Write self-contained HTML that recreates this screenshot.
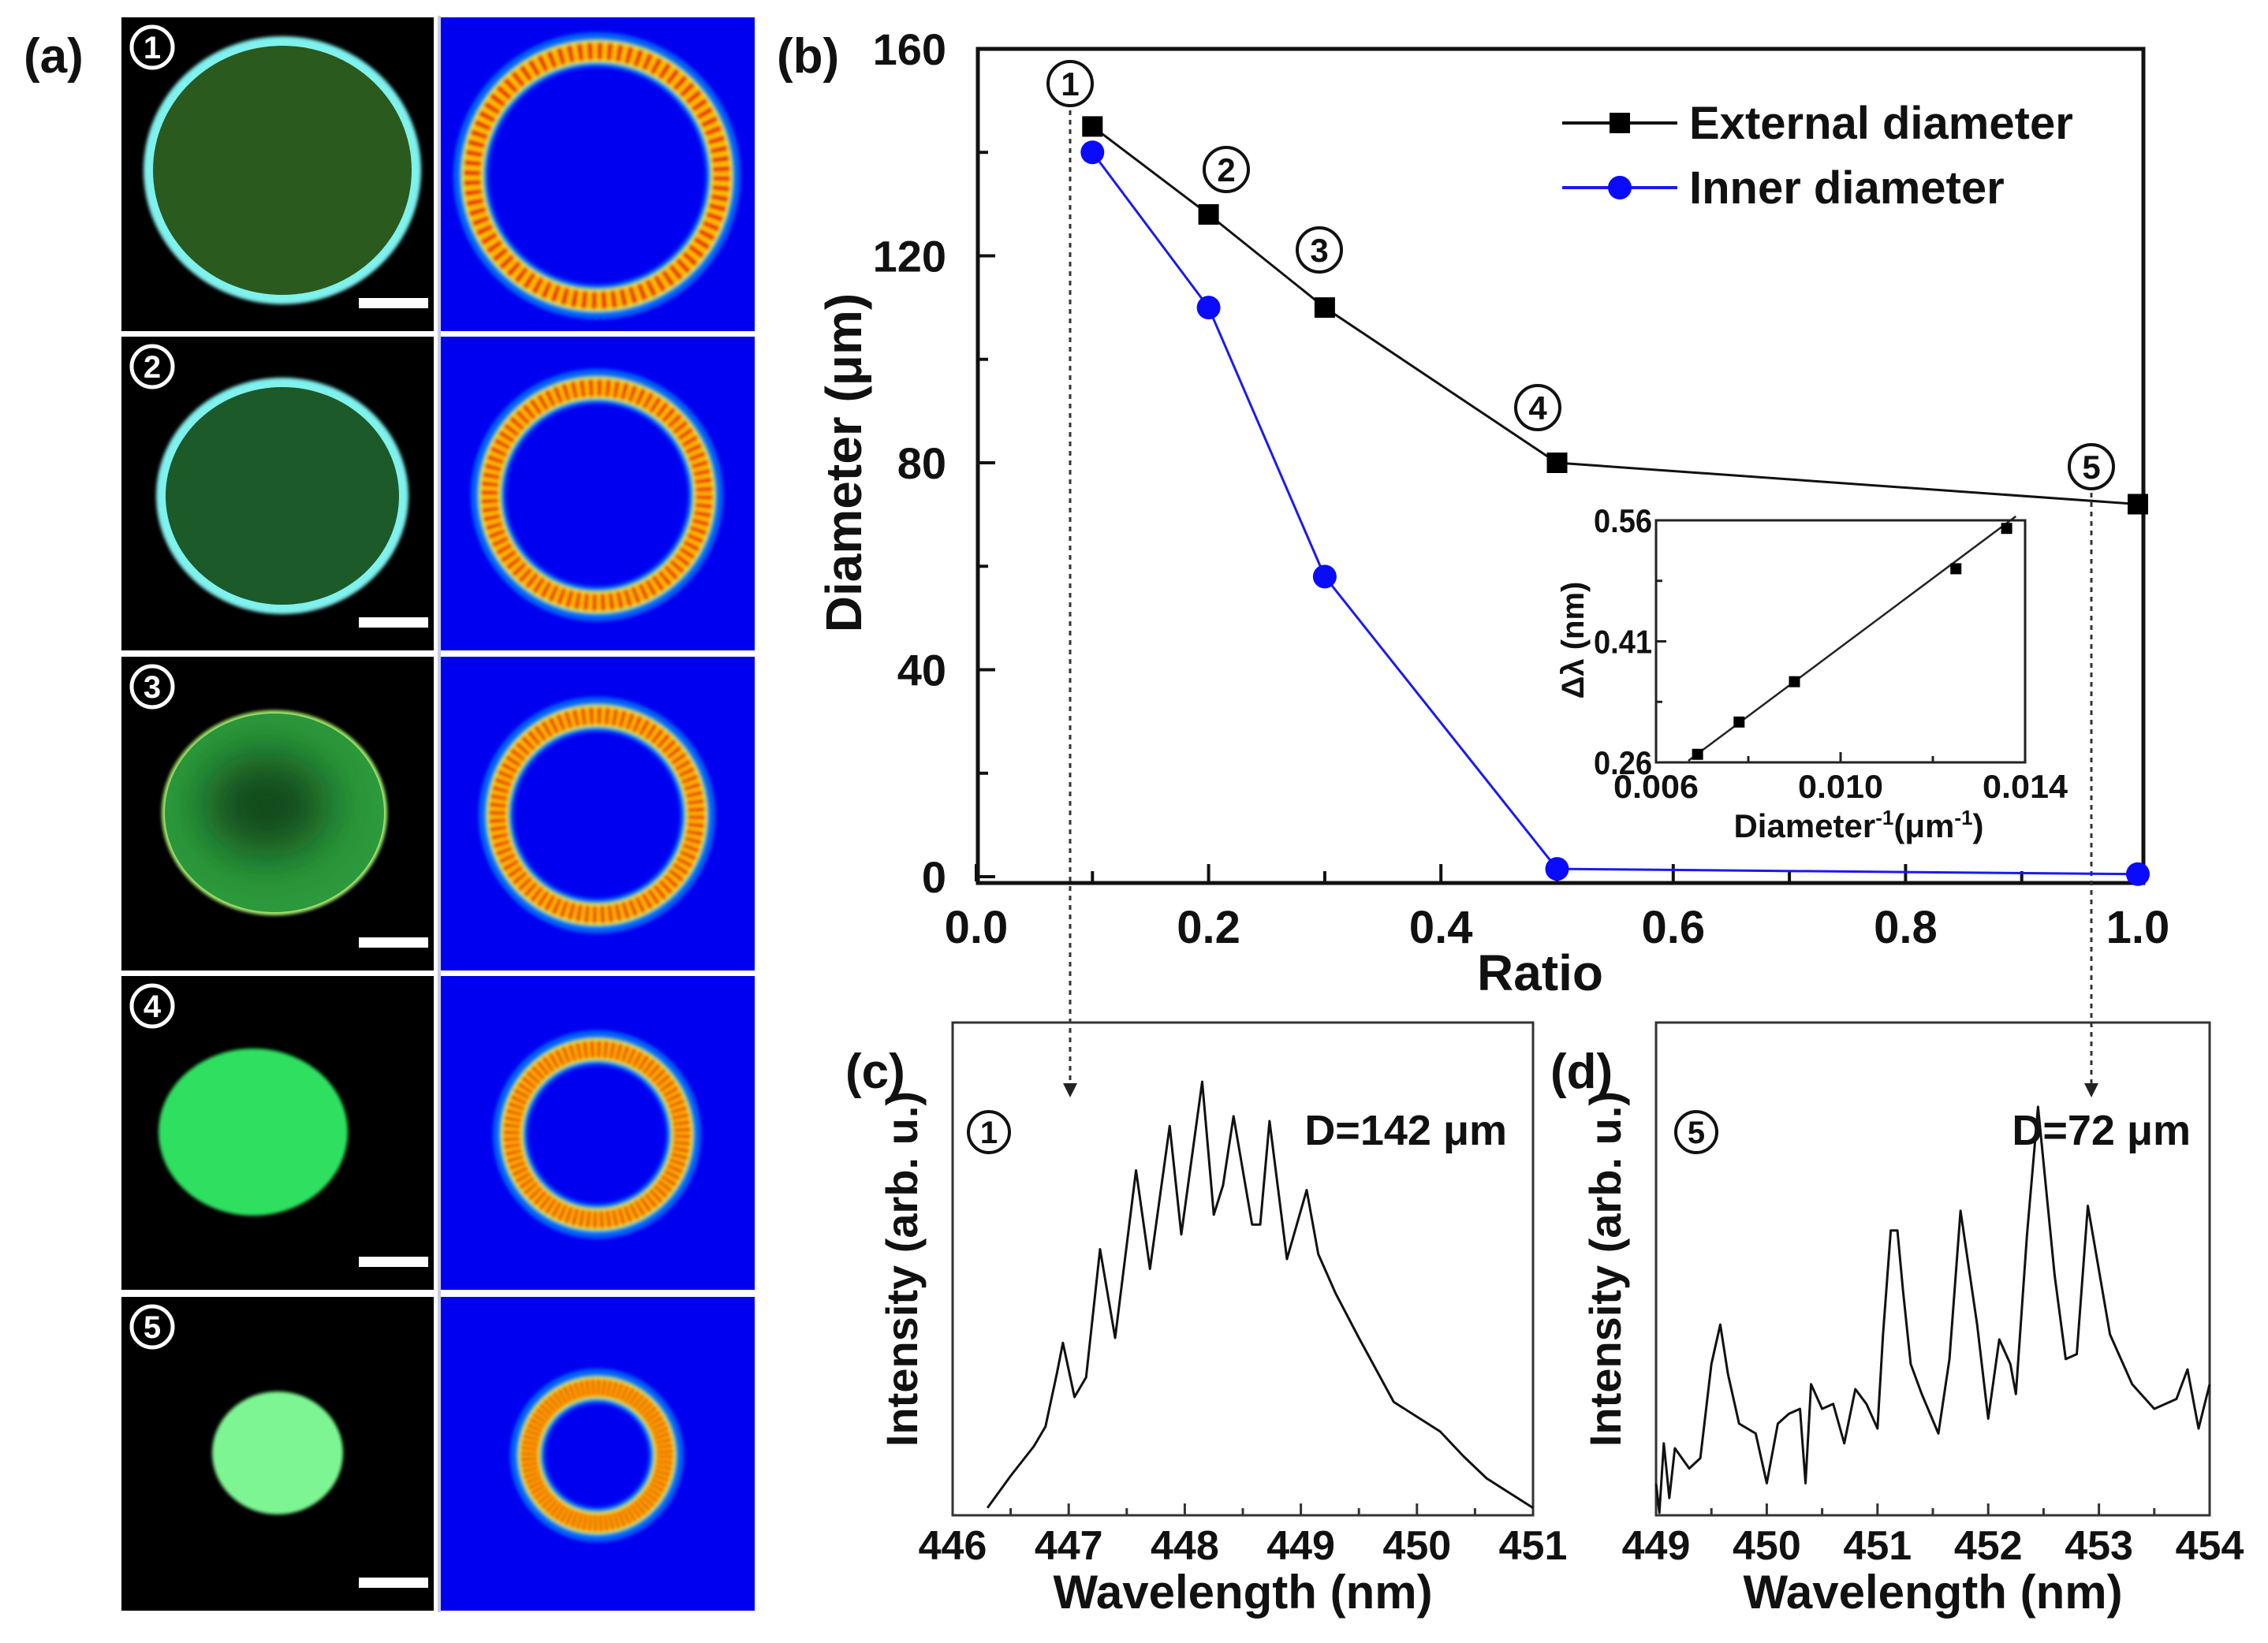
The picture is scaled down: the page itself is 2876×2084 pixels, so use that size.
<!DOCTYPE html>
<html><head><meta charset="utf-8"><style>
html,body{margin:0;padding:0;background:#fff}
svg{display:block}
text{font-family:"Liberation Sans",sans-serif;font-weight:bold;fill:#111}
</style></head><body>
<svg id="fig" width="2876" height="2084" viewBox="0 0 2876 2084" xmlns="http://www.w3.org/2000/svg">
<defs>
<filter id="blur" x="-20%" y="-20%" width="140%" height="140%"><feGaussianBlur stdDeviation="2.5"/></filter>
<filter id="blur2"><feGaussianBlur stdDeviation="2"/></filter>
<filter id="blurBig" x="-50%" y="-50%" width="200%" height="200%"><feGaussianBlur stdDeviation="30"/></filter>
</defs>
<g id="panelA"></g>
<g id="panelB"></g>
<g id="panelC"></g>
<g id="panelD"></g>
</svg>
<script>
// ---- Panel (b) data ----
const ratios = [0.1, 0.2, 0.3, 0.5, 1.0];
const externalDiameter = [145, 128, 110, 80, 72];
const innerDiameter = [140, 110, 58, 1.5, 0.5];
const yTicksB = [0, 40, 80, 120, 160];
const xTicksB = [0.0, 0.2, 0.4, 0.6, 0.8, 1.0];
// ---- Inset data ----
const invDiameter = [0.0069, 0.0078, 0.0090, 0.0125, 0.0136];
const deltaLambda = [0.27, 0.31, 0.36, 0.50, 0.55];
const fitX = [0.0067, 0.0138];
const fitY = [0.262, 0.565];
const insetYTicks = ["0.26", "0.41", "0.56"];
const insetXTicks = ["0.006", "0.010", "0.014"];
// ---- Panel (c) spectrum ----
const wlC = [446.3,446.5,446.7,446.8,446.9,446.95,447.05,447.15,447.27,447.4,447.58,447.7,447.87,447.97,448.15,448.25,448.33,448.42,448.58,448.65,448.73,448.88,449.05,449.15,449.3,449.5,449.8,450.0,450.2,450.4,450.6,450.8,451.0];
const intC = [0.015,0.08,0.14,0.18,0.29,0.35,0.24,0.28,0.54,0.36,0.70,0.50,0.79,0.57,0.88,0.61,0.67,0.81,0.59,0.59,0.80,0.52,0.66,0.53,0.45,0.36,0.23,0.20,0.17,0.12,0.075,0.045,0.015];
const xTicksC = [446, 447, 448, 449, 450, 451];
// ---- Panel (d) spectrum ----
const wlD = [449.0,449.03,449.07,449.12,449.17,449.3,449.4,449.5,449.58,449.65,449.75,449.9,450.0,450.1,450.2,450.3,450.35,450.4,450.5,450.6,450.7,450.8,450.9,451.0,451.05,451.12,451.18,451.23,451.3,451.4,451.55,451.65,451.75,451.9,452.0,452.1,452.2,452.25,452.35,452.45,452.6,452.7,452.8,452.9,453.1,453.3,453.5,453.7,453.8,453.9,454.0];
const intD = [0.065,0.005,0.146,0.035,0.136,0.095,0.116,0.307,0.387,0.286,0.186,0.166,0.065,0.186,0.206,0.216,0.065,0.266,0.216,0.226,0.146,0.256,0.226,0.176,0.367,0.578,0.578,0.457,0.307,0.246,0.166,0.317,0.618,0.387,0.196,0.357,0.307,0.246,0.568,0.829,0.487,0.317,0.327,0.628,0.367,0.266,0.216,0.236,0.296,0.176,0.266];
const xTicksD = [449, 450, 451, 452, 453, 454];

const NS = "http://www.w3.org/2000/svg";
function mk(parent, tag, attrs, txt){
  const e = document.createElementNS(NS, tag);
  for (const k in attrs) e.setAttribute(k, attrs[k]);
  if (txt !== undefined) e.textContent = txt;
  parent.appendChild(e);
  return e;
}

// ================= Panel (a) =================
const A = document.getElementById('panelA');
let lbl = mk(A, 'text', {x: 30, y: 92, 'font-size': 62});
lbl.textContent = '(a)';


const rowTops = [22, 427, 833, 1238, 1645];
const rowH = 398;
const photoCirc = [[358,216,176,170],[358,629,160,150],[348,1031,143,130],[321,1436,120,106],[352,1843,83,78]];
const photoFill = ['#2b5a1e','#1d5a2a','#2c9a3c','#2fe060','#7df592'];
const photoEdge = ['#7ff2ee','#7ff2ee','#a8f070','#2fe060','#7df592'];
const ringR = [172, 150, 140, 122, 100];
for (let i = 0; i < 5; i++) {
  const t = rowTops[i];
  let r1 = mk(A, 'rect', {x: 154, y: t, width: 396, height: rowH, fill: '#000'});
  
  
  const [cx, cy, rx, ry] = photoCirc[i];
  mk(A, 'ellipse', {cx, cy, rx, ry, fill: photoEdge[i], filter: 'url(#blur2)'});
  mk(A, 'ellipse', {cx, cy, rx: rx - (i < 2 ? 12 : 4), ry: ry - (i < 2 ? 12 : 4), fill: photoFill[i]});
  if (i === 2) mk(A, 'ellipse', {cx: cx - 10, cy: cy - 10, rx: 80, ry: 65, fill: '#0f3a14', opacity: 0.85, filter: 'url(#blurBig)'});
  let sb = mk(A, 'rect', {x: 455, y: t + rowH - 42, width: 88, height: 13, fill: '#fff'});
  
  
  mk(A, 'circle', {cx: 193, cy: t + 38, r: 26, fill: 'none', stroke: '#fff', 'stroke-width': 5});
  let nl = mk(A, 'text', {x: 193, y: t + 52, 'text-anchor': 'middle', 'font-size': 40, style: 'fill:#fff'}, String(i+1));
  
  
  // simulation
  let r2 = mk(A, 'rect', {x: 559, y: t, width: 398, height: rowH, fill: '#0000f0'});
  
  
  const scy = t + rowH / 2 + 2;
  const g = mk(A, 'g', {filter: 'url(#blur)'});
  mk(g, 'circle', {cx: 757, cy: scy, r: ringR[i] - 12, fill: 'none', stroke: '#00c8ff', 'stroke-width': 44, opacity: 0.5});
  mk(g, 'circle', {cx: 757, cy: scy, r: ringR[i] - 14, fill: 'none', stroke: '#60ff80', 'stroke-width': 30});
  mk(g, 'circle', {cx: 757, cy: scy, r: ringR[i] - 14, fill: 'none', stroke: '#ffcc00', 'stroke-width': 26});
  const circ = 2 * Math.PI * (ringR[i] - 14);
  const dash = circ / 80;
  mk(g, 'circle', {cx: 757, cy: scy, r: ringR[i] - 14, fill: 'none', stroke: '#e81000', 'stroke-width': 22, 'stroke-dasharray': (dash*0.55)+' '+(dash*0.45)});
}
mk(A, 'line', {x1: 557, y1: 20, x2: 557, y2: 2045, stroke: '#c8c8e8', 'stroke-width': 4});

// ================= Panel (b) =================
const B = document.getElementById('panelB');
const bx0 = 1238, bx1 = 2711, by0 = 1112, by1 = 62;
const xB = v => bx0 + (v - 0) / 1.0 * (bx1 - bx0);
const yB = v => by0 - v / 160 * (by0 - by1);
lbl = mk(B, 'text', {x: 985, y: 92, 'font-size': 62}, '(b)');


let frame = mk(B, 'rect', {x: 1240, y: 62, width: 1478, height: 1058, fill: 'none', stroke: '#111', 'stroke-width': 5});


for (let v = 0; v <= 160; v += 20) {
  mk(B, 'line', {x1: 1240, y1: yB(v), x2: 1240 + (v % 40 === 0 ? 22 : 13), y2: yB(v), stroke: '#111', 'stroke-width': 4});
}
yTicksB.forEach(v => {
  const t = mk(B, 'text', {x: 1200, y: yB(v) + 20, 'text-anchor': 'end', 'font-size': 56}, String(v));
  
  
});
for (let k = 0; k <= 10; k++) {
  const v = k / 10;
  mk(B, 'line', {x1: xB(v), y1: 1118, x2: xB(v), y2: 1118 - (k % 2 === 0 ? 22 : 13), stroke: '#111', 'stroke-width': 4});
}
xTicksB.forEach(v => {
  const t = mk(B, 'text', {x: xB(v), y: 1196, 'text-anchor': 'middle', 'font-size': 58}, v.toFixed(1));
  
  
});
let yt = mk(B, 'text', {transform: 'translate(1092,587) rotate(-90)', 'text-anchor': 'middle', 'font-size': 64}, 'Diameter (μm)');


let xt = mk(B, 'text', {x: 1953, y: 1256, 'text-anchor': 'middle', 'font-size': 64}, 'Ratio');


// dotted guides
let g1 = mk(B, 'line', {x1: 1357, y1: 140, x2: 1357, y2: 1378, stroke: '#333', 'stroke-width': 3, 'stroke-dasharray': '6 6'});


mk(B, 'path', {d: 'M1348,1374 L1366,1374 L1357,1392 Z', fill: '#222'});
let g5 = mk(B, 'line', {x1: 2652, y1: 625, x2: 2652, y2: 1378, stroke: '#333', 'stroke-width': 3, 'stroke-dasharray': '6 6'});


mk(B, 'path', {d: 'M2643,1374 L2661,1374 L2652,1392 Z', fill: '#222'});
// series
const extPts = ratios.map((r, i) => xB(r) + ',' + yB(externalDiameter[i])).join(' ');
const innPts = ratios.map((r, i) => xB(r) + ',' + yB(innerDiameter[i])).join(' ');
let pl = mk(B, 'polyline', {points: extPts, fill: 'none', stroke: '#111', 'stroke-width': 3});


pl = mk(B, 'polyline', {points: innPts, fill: 'none', stroke: '#1a1aee', 'stroke-width': 3});


ratios.forEach((r, i) => {
  const s = mk(B, 'rect', {x: xB(r) - 13, y: yB(externalDiameter[i]) - 13, width: 26, height: 26, fill: '#000'});
  
  
  const c = mk(B, 'circle', {cx: xB(r), cy: yB(innerDiameter[i]), r: 15, fill: '#0a0aff'});
  
  
});
const circlePos = [[1357,106],[1555,215],[1673,317],[1950,517],[2652,592]];
circlePos.forEach((p, i) => {
  mk(B, 'circle', {cx: p[0], cy: p[1], r: 28, fill: '#fff', stroke: '#111', 'stroke-width': 4});
  const t = mk(B, 'text', {x: p[0], y: p[1] + 15, 'text-anchor': 'middle', 'font-size': 42}, String(i+1));
  
  
});
// legend
const lg = mk(B, 'g', {});


mk(lg, 'line', {x1: 1981, y1: 156, x2: 2127, y2: 156, stroke: '#111', 'stroke-width': 4});
mk(lg, 'rect', {x: 2041, y: 143, width: 26, height: 26, fill: '#000'});
let le = mk(lg, 'text', {x: 2142, y: 176, 'font-size': 58}, 'External diameter');


mk(lg, 'line', {x1: 1981, y1: 238, x2: 2127, y2: 238, stroke: '#1a1aee', 'stroke-width': 4});
mk(lg, 'circle', {cx: 2054, cy: 238, r: 15, fill: '#0a0aff'});
le = mk(lg, 'text', {x: 2142, y: 258, 'font-size': 58}, 'Inner diameter');


// inset
const ix0 = 2100, ix1 = 2568, iy0 = 967, iy1 = 660;
const xI = v => ix0 + (v - 0.006) / 0.008 * (ix1 - ix0);
const yI = v => iy0 - (v - 0.26) / 0.30 * (iy0 - iy1);
let ib = mk(B, 'rect', {x: ix0, y: iy1, width: ix1 - ix0, height: iy0 - iy1, fill: '#fff', stroke: '#222', 'stroke-width': 3});


[0.26, 0.335, 0.41, 0.485, 0.56].forEach((v, k) => mk(B, 'line', {x1: ix0, y1: yI(v), x2: ix0 + (k % 2 ? 8 : 13), y2: yI(v), stroke: '#222', 'stroke-width': 3}));
[0.006, 0.008, 0.010, 0.012, 0.014].forEach((v, k) => mk(B, 'line', {x1: xI(v), y1: iy0, x2: xI(v), y2: iy0 - (k % 2 ? 8 : 13), stroke: '#222', 'stroke-width': 3}));
insetYTicks.forEach(s => {
  const t = mk(B, 'text', {x: 2095, y: yI(parseFloat(s)) + 15, 'text-anchor': 'end', 'font-size': 42, textLength: 74, lengthAdjust: 'spacingAndGlyphs'}, s);
  
  
});
insetXTicks.forEach(s => {
  const t = mk(B, 'text', {x: xI(parseFloat(s)), y: 1012, 'text-anchor': 'middle', 'font-size': 42, textLength: 108, lengthAdjust: 'spacingAndGlyphs'}, s);
  
  
});
let iyt = mk(B, 'text', {transform: 'translate(2008,812) rotate(-90)', 'text-anchor': 'middle', 'font-size': 40}, 'Δλ (nm)');


let ixt = mk(B, 'text', {x: 2357, y: 1062, 'text-anchor': 'middle', 'font-size': 42});
ixt.innerHTML = 'Diameter<tspan font-size="26" dy="-16">-1</tspan><tspan dy="16">(μm</tspan><tspan font-size="26" dy="-16">-1</tspan><tspan dy="16">)</tspan>';


let fl = mk(B, 'line', {x1: xI(fitX[0]), y1: yI(fitY[0]), x2: xI(fitX[1]), y2: yI(fitY[1]), stroke: '#222', 'stroke-width': 2.5});


invDiameter.forEach((v, i) => {
  const s = mk(B, 'rect', {x: xI(v) - 7, y: yI(deltaLambda[i]) - 7, width: 14, height: 14, fill: '#000'});
  
  
});

// ================= Spectra =================
function spectrum(G, name, x0, x1, y0, y1, wl, ints, ticks, labelX, numTxt, numX, dText, dRight) {
  const lo = ticks[0], hi = ticks[ticks.length - 1];
  const xs = v => x0 + (v - lo) / (hi - lo) * (x1 - x0);
  const ys = v => y0 - v * (y0 - y1);
  let l = mk(G, 'text', {x: labelX, y: 1380, 'font-size': 62}, name);
  
  
  const f = mk(G, 'rect', {x: x0, y: y1, width: x1 - x0, height: y0 - y1, fill: 'none', stroke: '#333', 'stroke-width': 3});
  
  
  for (let k = 0; k < (ticks.length - 1) * 2 + 1; k++) {
    const v = lo + k * 0.5;
    mk(G, 'line', {x1: xs(v), y1: y0, x2: xs(v), y2: y0 - (k % 2 ? 9 : 15), stroke: '#333', 'stroke-width': 3});
  }
  ticks.forEach(v => {
    const t = mk(G, 'text', {x: xs(v), y: 1978, 'text-anchor': 'middle', 'font-size': 52}, String(v));
    
    
  });
  const xt = mk(G, 'text', {x: (x0 + x1) / 2, y: 2040, 'text-anchor': 'middle', 'font-size': 60}, 'Wavelength (nm)');
  
  
  const yt = mk(G, 'text', {transform: 'translate(' + (x0 - 45) + ',' + ((y0 + y1) / 2) + ') rotate(-90)', 'text-anchor': 'middle', 'font-size': 56}, 'Intensity (arb. u.)');
  
  
  const pts = wl.map((w, i) => xs(w) + ',' + ys(ints[i])).join(' ');
  const p = mk(G, 'polyline', {points: pts, fill: 'none', stroke: '#111', 'stroke-width': 3, 'stroke-linejoin': 'round'});
  
  
  mk(G, 'circle', {cx: numX, cy: 1436, r: 26, fill: 'none', stroke: '#111', 'stroke-width': 4});
  const n = mk(G, 'text', {x: numX, y: 1450, 'text-anchor': 'middle', 'font-size': 40}, numTxt);
  
  
  const d = mk(G, 'text', {x: dRight, y: 1452, 'text-anchor': 'end', 'font-size': 54}, dText);
  
  
}
spectrum(document.getElementById('panelC'), '(c)', 1208, 1944, 1922, 1297, wlC, intC, xTicksC, 1072, '1', 1254, 'D=142 μm', 1911);
spectrum(document.getElementById('panelD'), '(d)', 2100, 2802, 1922, 1297, wlD, intD, xTicksD, 1966, '5', 2151, 'D=72 μm', 2778);
</script>
</body></html>
